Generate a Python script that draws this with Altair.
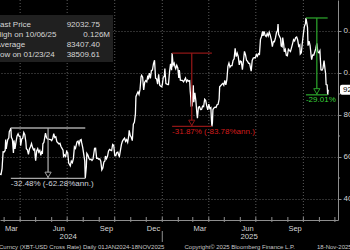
import altair as alt
import pandas as pd

# ---------------- data ----------------
dates = [
    "2024-02-22","2024-02-24","2024-02-26","2024-02-28","2024-03-01","2024-03-03","2024-03-04","2024-03-05",
    "2024-03-07","2024-03-08","2024-03-10","2024-03-11","2024-03-13","2024-03-14","2024-03-15","2024-03-17",
    "2024-03-19","2024-03-20","2024-03-22","2024-03-24","2024-03-26","2024-03-28","2024-03-30","2024-04-01",
    "2024-04-02","2024-04-04","2024-04-06","2024-04-08","2024-04-10","2024-04-12","2024-04-13","2024-04-15",
    "2024-04-17","2024-04-19","2024-04-21","2024-04-23","2024-04-25","2024-04-27","2024-04-29","2024-04-30",
    "2024-05-01","2024-05-03","2024-05-05","2024-05-07","2024-05-09","2024-05-11","2024-05-13","2024-05-14",
    "2024-05-15","2024-05-17","2024-05-20","2024-05-22","2024-05-24","2024-05-26","2024-05-28","2024-05-30",
    "2024-06-01","2024-06-03","2024-06-05","2024-06-07","2024-06-09","2024-06-11","2024-06-13","2024-06-15",
    "2024-06-17","2024-06-19","2024-06-21","2024-06-23","2024-06-24","2024-06-26","2024-06-28","2024-06-30",
    "2024-07-02","2024-07-04","2024-07-05","2024-07-07","2024-07-09","2024-07-11","2024-07-13","2024-07-15",
    "2024-07-17","2024-07-20","2024-07-22","2024-07-24","2024-07-26","2024-07-28","2024-07-29","2024-07-31",
    "2024-08-02","2024-08-04","2024-08-05","2024-08-07","2024-08-08","2024-08-10","2024-08-12","2024-08-14",
    "2024-08-16","2024-08-18","2024-08-20","2024-08-23","2024-08-25","2024-08-27","2024-08-29","2024-08-31",
    "2024-09-02","2024-09-04","2024-09-06","2024-09-08","2024-09-10","2024-09-12","2024-09-13","2024-09-15",
    "2024-09-17","2024-09-19","2024-09-21","2024-09-23","2024-09-25","2024-09-27","2024-09-29","2024-10-01",
    "2024-10-03","2024-10-05","2024-10-07","2024-10-09","2024-10-10","2024-10-12","2024-10-14","2024-10-16",
    "2024-10-18","2024-10-20","2024-10-22","2024-10-24","2024-10-26","2024-10-28","2024-10-29","2024-10-31",
    "2024-11-02","2024-11-04","2024-11-06","2024-11-08","2024-11-10","2024-11-11","2024-11-13","2024-11-15",
    "2024-11-17","2024-11-19","2024-11-21","2024-11-22","2024-11-24","2024-11-26","2024-11-28","2024-11-30",
    "2024-12-02","2024-12-04","2024-12-05","2024-12-07","2024-12-09","2024-12-11","2024-12-13","2024-12-15",
    "2024-12-17","2024-12-19","2024-12-21","2024-12-23","2024-12-25","2024-12-27","2024-12-29","2024-12-31",
    "2025-01-01","2025-01-03","2025-01-05","2025-01-06","2025-01-08","2025-01-10","2025-01-12","2025-01-13",
    "2025-01-15","2025-01-17","2025-01-19","2025-01-20","2025-01-22","2025-01-24","2025-01-26","2025-01-27",
    "2025-01-29","2025-01-31","2025-02-02","2025-02-03","2025-02-05","2025-02-07","2025-02-09","2025-02-11",
    "2025-02-13","2025-02-15","2025-02-17","2025-02-19","2025-02-21","2025-02-23","2025-02-24","2025-02-25",
    "2025-02-26","2025-02-28","2025-03-02","2025-03-03","2025-03-05","2025-03-07","2025-03-09","2025-03-10",
    "2025-03-12","2025-03-14","2025-03-16","2025-03-18","2025-03-20","2025-03-22","2025-03-24","2025-03-26",
    "2025-03-28","2025-03-30","2025-04-01","2025-04-03","2025-04-05","2025-04-06","2025-04-07","2025-04-08",
    "2025-04-09","2025-04-11","2025-04-13","2025-04-15","2025-04-17","2025-04-19","2025-04-21","2025-04-22",
    "2025-04-24","2025-04-26","2025-04-28","2025-04-30","2025-05-02","2025-05-04","2025-05-06","2025-05-08",
    "2025-05-10","2025-05-12","2025-05-14","2025-05-16","2025-05-18","2025-05-20","2025-05-22","2025-05-24",
    "2025-05-26","2025-05-28","2025-05-30","2025-06-01","2025-06-03","2025-06-05","2025-06-07","2025-06-09",
    "2025-06-11","2025-06-13","2025-06-15","2025-06-17","2025-06-19","2025-06-21","2025-06-22","2025-06-24",
    "2025-06-26","2025-06-28","2025-06-30","2025-07-02","2025-07-04","2025-07-06","2025-07-08","2025-07-10",
    "2025-07-12","2025-07-14","2025-07-15","2025-07-17","2025-07-19","2025-07-21","2025-07-23","2025-07-25",
    "2025-07-27","2025-07-29","2025-07-31","2025-08-02","2025-08-04","2025-08-06","2025-08-08","2025-08-10",
    "2025-08-12","2025-08-13","2025-08-14","2025-08-16","2025-08-18","2025-08-19","2025-08-21","2025-08-22",
    "2025-08-24","2025-08-25","2025-08-27","2025-08-29","2025-08-31","2025-09-02","2025-09-04","2025-09-06",
    "2025-09-08","2025-09-10","2025-09-12","2025-09-14","2025-09-16","2025-09-18","2025-09-20","2025-09-22",
    "2025-09-24","2025-09-25","2025-09-27","2025-09-29","2025-10-01","2025-10-03","2025-10-05","2025-10-06",
    "2025-10-08","2025-10-09","2025-10-10","2025-10-12","2025-10-14","2025-10-16","2025-10-17","2025-10-19",
    "2025-10-21","2025-10-23","2025-10-25","2025-10-27","2025-10-29","2025-10-31","2025-11-02","2025-11-04",
    "2025-11-06","2025-11-08","2025-11-10","2025-11-12","2025-11-13","2025-11-14","2025-11-16","2025-11-17",
    "2025-11-18",
]
prices_k = [
    51.8, 51.7, 54.5, 62.5, 62.4, 63.1, 68.3, 63.8,
    66.9, 68.3, 69.0, 72.1, 73.1, 73.8, 69.4, 68.4,
    61.9, 67.9, 63.8, 67.2, 70.0, 71.0, 69.9, 69.7,
    65.4, 68.5, 69.0, 71.6, 70.6, 67.2, 63.9, 63.4,
    61.3, 63.8, 64.9, 66.4, 64.5, 63.4, 63.8, 60.6,
    58.3, 62.9, 64.0, 62.3, 63.1, 60.8, 62.9, 61.5,
    66.3, 67.0, 71.4, 69.2, 68.6, 68.5, 68.4, 68.3,
    67.8, 68.8, 71.1, 69.3, 69.6, 67.3, 66.8, 66.2,
    66.5, 65.0, 64.1, 63.2, 60.3, 61.0, 60.3, 62.7,
    62.0, 57.0, 56.7, 55.8, 58.0, 57.3, 59.2, 64.8,
    64.1, 67.2, 67.6, 65.9, 68.0, 68.3, 66.8, 64.6,
    61.4, 58.1, 49.85, 55.1, 61.7, 60.9, 59.4, 58.7,
    59.0, 58.4, 59.0, 64.1, 64.2, 59.4, 59.4, 58.9,
    59.1, 58.0, 53.9, 54.8, 57.6, 58.1, 60.5, 59.2,
    60.3, 62.9, 63.6, 63.3, 63.1, 66.0, 65.6, 60.8,
    60.6, 62.1, 62.3, 60.6, 60.3, 63.2, 66.0, 67.6,
    68.4, 69.0, 67.4, 68.2, 67.0, 69.9, 72.7, 70.2,
    69.4, 67.8, 75.6, 76.5, 80.4, 88.7, 90.0, 91.0,
    89.8, 92.3, 98.3, 98.9, 98.0, 91.9, 95.6, 96.4,
    95.8, 98.8, 97.0, 99.9, 97.4, 101.2, 101.4, 104.5,
    106.1, 97.5, 97.2, 94.7, 99.4, 94.2, 93.7, 93.4,
    94.4, 98.1, 98.3, 102.1, 95.0, 94.7, 94.5, 94.5,
    100.5, 104.4, 101.3, 109.5, 103.7, 104.7, 102.6, 102.0,
    103.7, 102.4, 97.7, 101.4, 96.6, 96.5, 96.5, 95.8,
    96.6, 97.6, 95.8, 96.6, 96.1, 96.3, 91.5, 88.7,
    84.3, 84.4, 94.2, 86.1, 90.6, 86.7, 80.7, 78.5,
    83.7, 84.0, 82.6, 82.7, 84.2, 84.0, 87.5, 86.9,
    84.3, 82.4, 85.2, 83.1, 83.5, 78.4, 74.6, 76.3,
    82.6, 83.4, 83.7, 83.6, 84.9, 85.1, 87.5, 93.4,
    93.9, 94.6, 95.0, 94.2, 96.5, 94.3, 96.8, 103.2,
    104.7, 102.8, 103.5, 103.5, 106.0, 106.8, 111.7, 107.8,
    109.4, 107.8, 103.9, 105.7, 105.4, 101.6, 105.6, 110.3,
    108.7, 106.1, 105.5, 104.6, 104.6, 102.1, 100.9, 106.0,
    107.1, 107.3, 107.2, 108.8, 108.0, 109.2, 108.9, 116.0,
    117.4, 119.8, 117.7, 119.8, 117.9, 117.4, 118.8, 117.6,
    119.4, 117.9, 115.8, 112.5, 115.0, 114.9, 116.7, 119.3,
    120.2, 123.3, 118.4, 117.4, 116.3, 112.9, 112.5, 116.9,
    113.5, 110.1, 111.2, 108.4, 108.2, 111.3, 110.7, 110.2,
    112.0, 113.9, 115.9, 115.3, 116.8, 117.1, 115.7, 112.7,
    113.3, 109.0, 109.6, 114.4, 118.6, 122.3, 123.5, 126.2,
    123.3, 121.7, 113.0, 115.2, 113.1, 108.2, 106.4, 108.6,
    108.5, 110.0, 111.6, 114.1, 110.0, 109.6, 110.6, 101.5,
    101.3, 102.3, 105.9, 101.6, 99.7, 94.5, 94.3, 89.6,
    92.03275,
]

dd_peak_date = ["2024-03-14", "2025-01-20", "2025-10-06"]
dd_peak_k = [73.8, 109.5, 126.2]
dd_trough_date = ["2024-08-05", "2025-04-07", "2025-11-17"]
dd_trough_k = [49.85, 74.6, 89.6]
dd_label = ["-32.48% (-62.28%ann.)", "-31.87% (-83.78%ann.)", "-29.01%"]

legend_names = ["Last Price", "High on 10/06/25", "Average", "Low on 01/23/24"]
legend_values = ["92032.75", "0.126M", "83407.40", "38509.61"]

last_price_k = [92.03275]
last_price_text = ["92032.75"]

month_labels = ["Mar", "Jun", "Sep", "Dec", "Mar", "Jun", "Sep"]
month_label_dates = ["2024-03-15", "2024-06-15", "2024-09-15", "2024-12-15",
                     "2025-03-15", "2025-06-15", "2025-09-15"]
year_labels = ["2024", "2025"]
year_label_dates = ["2024-07-03", "2025-06-18"]
quarter_dates = ["2024-04-01", "2024-07-01", "2024-10-01", "2025-01-01",
                 "2025-04-01", "2025-07-01", "2025-10-01"]
month_tick_dates = ["2024-03-01", "2024-04-01", "2024-05-01", "2024-06-01", "2024-07-01",
                    "2024-08-01", "2024-09-01", "2024-10-01", "2024-11-01", "2024-12-01",
                    "2025-01-01", "2025-02-01", "2025-03-01", "2025-04-01", "2025-05-01",
                    "2025-06-01", "2025-07-01", "2025-08-01", "2025-09-01", "2025-10-01",
                    "2025-11-01", "2025-12-01"]
year_break_date = ["2025-01-01"]
y_ticks_k = [40, 60, 80, 100, 120]
y_minor_k = [50, 70, 90, 110]
footer_left = "Curncy (XBT-USD Cross Rate) Daily 01JAN2024-18NOV2025"
footer_mid = "Copyright\u00a9 2025 Bloomberg Finance L.P."
footer_right = "18-Nov-2025"

# ---------------- styling ----------------
FONT = "Liberation Sans"
W, H = 338, 220
AX = "#8e8e8e"
GRID = "#5c5c5c"
TXT = "#d6d6d6"
DD_LINE = ["#a6a6a6", "#8e1616", "#2a9e2a"]
DD_TEXT = ["#cfd3dc", "#d21c1c", "#3ad23a"]

xscale = alt.Scale(domain=[alt.DateTime(year=2024, month=2, date=22),
                           alt.DateTime(year=2025, month=12, date=7)])
yscale = alt.Scale(domain=[30, 134.76], nice=False, zero=False)
XAX = alt.Axis(labels=False, ticks=False, grid=False, domainColor=AX, title=None)
YAX = alt.Axis(orient="right", values=y_ticks_k, grid=True, gridColor=GRID, gridDash=[1, 2],
               domainColor=AX, tickColor=AX, tickSize=3, labelColor=TXT, labelFontSize=8,
               labelFont=FONT, labelPadding=2, title=None,
               labelExpr="datum.value >= 100 ? format(datum.value/1000, '.2f') + 'M' : format(datum.value*1000, 'd')")


def X(f):
    return alt.X(f"{f}:T", scale=xscale, axis=XAX)


def X2(f):
    return alt.X2(f"{f}:T")


def Y(f):
    return alt.Y(f"{f}:Q", scale=yscale, axis=YAX)


def Y2(f):
    return alt.Y2(f"{f}:Q")


def label(txt, x, y, size=8, color=TXT, align="left", baseline="middle"):
    return alt.Chart(pd.DataFrame({"t": [txt]})).mark_text(
        align=align, baseline=baseline, fontSize=size, font=FONT, color=color
    ).encode(x=alt.value(x), y=alt.value(y), text="t:N")


price_df = pd.DataFrame({"date": dates, "p": prices_k})

# vertical quarter grid
qgrid = alt.Chart(pd.DataFrame({"d": quarter_dates})).mark_rule(
    color=GRID, strokeDash=[1, 2], strokeWidth=1
).encode(x=X("d"))

# bottom month ticks
mticks = alt.Chart(pd.DataFrame({"d": month_tick_dates})).mark_rule(
    color=AX, strokeWidth=1
).encode(x=X("d"), y=alt.value(H - 3), y2=alt.value(H + 2))

# minor ticks on right axis
yminor = alt.Chart(pd.DataFrame({"v": y_minor_k})).mark_rule(color=AX, strokeWidth=1).encode(
    y=Y("v"), x=alt.value(W), x2=alt.value(W + 2))

line = alt.Chart(price_df).mark_line(color="white", strokeWidth=1.3, interpolate="linear").encode(
    x=X("date"), y=Y("p"))

# drawdown annotations
dd_layers = []
for i in range(3):
    pk = pd.to_datetime(dd_peak_date[i])
    tr = pd.to_datetime(dd_trough_date[i])
    mid = (pk + (tr - pk) / 2).strftime("%Y-%m-%d")
    d = pd.DataFrame({"pd": [dd_peak_date[i]], "td": [dd_trough_date[i]], "md": [mid],
                      "pv": [dd_peak_k[i]], "tv": [dd_trough_k[i]], "lab": [dd_label[i]]})
    base = alt.Chart(d)
    col = DD_LINE[i]
    dd_layers += [
        base.mark_rule(color=col, strokeWidth=1.3).encode(x=X("pd"), x2=X2("td"), y=Y("pv")),
        base.mark_rule(color=col, strokeWidth=1.3).encode(x=X("pd"), x2=X2("td"), y=Y("tv")),
        base.mark_rule(color=col, strokeWidth=1.3).encode(x=X("md"), y=Y("pv"), y2=Y2("tv")),
        base.mark_point(shape="triangle-down", filled=True, fill="black", stroke=col,
                        strokeWidth=1, size=38, opacity=1, yOffset=-3.5).encode(x=X("md"), y=Y("tv")),
        base.mark_text(align="left", baseline="top", dx=0, dy=1.5, fontSize=8, font=FONT,
                       color=DD_TEXT[i]).encode(x=X("pd"), y=Y("tv"), text="lab:N"),
    ]

# legend box
legend_box = alt.Chart(pd.DataFrame({"a": [0]})).mark_rect(color="#202020").encode(
    x=alt.value(-2), x2=alt.value(113), y=alt.value(15), y2=alt.value(62))
legend_texts = []
val_right = [100, 110, 100, 100]
for i in range(4):
    yy = 24.5 + 10 * i
    legend_texts.append(label(legend_names[i], -4.5, yy))
    legend_texts.append(label(legend_values[i], val_right[i], yy, align="right"))

# last price tag
lp = pd.DataFrame({"v": last_price_k, "t": last_price_text})
tag = alt.Chart(lp).mark_tick(color="white", thickness=10, size=40, cornerRadius=2, opacity=1).encode(
    y=Y("v"), x=alt.value(W + 22))
tag_text = alt.Chart(lp).mark_text(align="left", baseline="middle", fontSize=8, font=FONT,
                                   color="black").encode(y=Y("v"), x=alt.value(W + 5), text="t:N")

# month and year labels
mlab = alt.Chart(pd.DataFrame({"d": month_label_dates, "t": month_labels})).mark_text(
    baseline="middle", fontSize=7.5, font=FONT, color=TXT).encode(x=X("d"), y=alt.value(228.5), text="t:N")
ylab = alt.Chart(pd.DataFrame({"d": year_label_dates, "t": year_labels})).mark_text(
    baseline="middle", fontSize=7.8, font=FONT, color=TXT).encode(x=X("d"), y=alt.value(237), text="t:N")
ybreak = alt.Chart(pd.DataFrame({"d": year_break_date})).mark_rule(color=AX, strokeWidth=1).encode(
    x=X("d"), y=alt.value(231), y2=alt.value(242))

footers = [
    label(footer_left, -1, 247, size=6, color="#c8c8c8"),
    label(footer_mid, 184.5, 247, size=6, color="#c8c8c8"),
    label(footer_right, 317, 247, size=6, color="#c8c8c8"),
]

chart = alt.layer(
    qgrid, line, *dd_layers, legend_box, *legend_texts, mticks, yminor, tag, tag_text,
    mlab, ylab, ybreak, *footers
).properties(
    width=W, height=H, autosize="none",
    padding={"left": 0, "top": 0, "right": 12, "bottom": 30},
    background="black",
).configure_view(stroke=None)

chart.save("out.html", embed_options={"renderer": "svg", "actions": False})
